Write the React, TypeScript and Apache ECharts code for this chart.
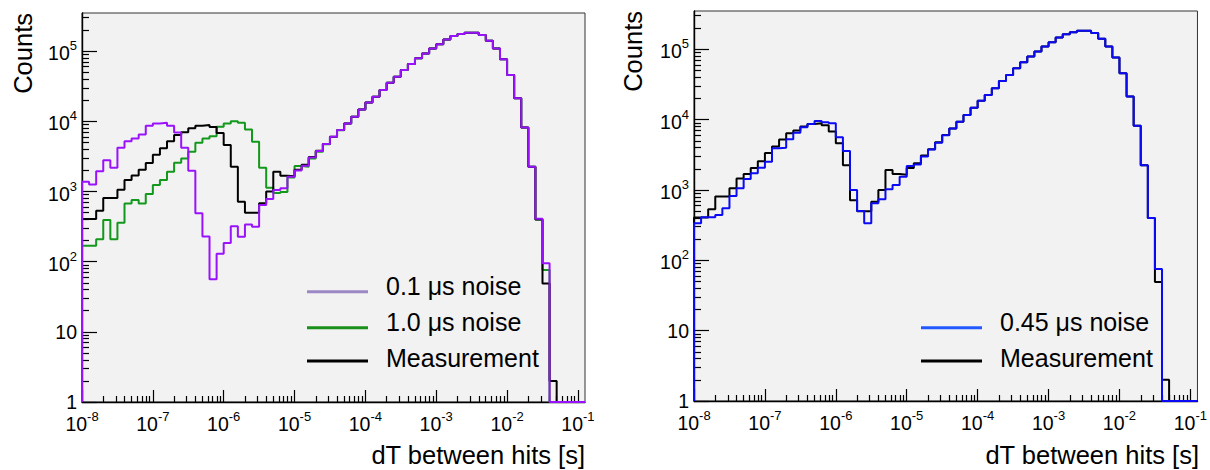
import React, { useEffect, useRef } from "react";
import * as echarts from "echarts";

// ---------- binning (log10 of dT, 10 bins per decade, starting at 1e-8 s) ----------
const FIRST_EDGE_EXP = -8;
const BIN_WIDTH_DEC = 0.1;
const X_MIN = 1e-8;
const X_MAX = Math.pow(10, -0.9);
const Y_MIN = 1;
const Y_MAX = 3.5e5;

// ---------- series values (counts per bin, 71 bins) ----------
const noise01us = [
  1375, 1260, 1950, 2800, 2180, 4200, 5220, 5700, 6500, 8630,
  9330, 9520, 8630, 6950, 4200, 1970, 488, 228, 56, 130,
  185, 321, 227, 340, 314, 640, 779, 1047, 1110, 1625,
  2000, 2330, 3060, 3770, 4740, 6030, 7510, 9350, 11600, 14800,
  18600, 22400, 27900, 35500, 43200, 53800, 65500, 79000, 93000, 109500,
  126000, 147000, 164000, 175000, 183000, 183000, 170000, 141000, 109500, 76500,
  45700, 21300, 8200, 2250, 410, 95, 0, 0, 0, 0,
  0,
];

const noise10us = [
  169, 169, 208, 391, 208, 358, 677, 754, 677, 918,
  1233, 1453, 1909, 2565, 2960, 3680, 4943, 5705, 6155, 8350,
  9330, 10070, 9520, 7660, 5106, 2177, 1130, 950, 980, 1580,
  2300, 2250, 2950, 3700, 4700, 6000, 7450, 9300, 11600, 14800,
  18600, 22400, 27900, 35500, 43200, 53800, 65500, 79000, 93000, 109500,
  126000, 147000, 164000, 175000, 183000, 183000, 170000, 141000, 109500, 76500,
  45700, 21300, 8200, 2250, 400, 76, 0, 0, 0, 0,
  0,
];

const measurement = [
  405, 405, 530, 810, 810, 1060, 1460, 1690, 2050, 2550,
  3350, 4150, 5200, 6400, 7000, 8000, 8650, 8850, 8300, 6800,
  4600, 2250, 715, 500, 500, 680, 1000, 1920, 1680, 1650,
  2050, 2400, 3100, 3800, 4750, 6050, 7500, 9350, 11600, 14800,
  18600, 22400, 27900, 35500, 43200, 53800, 65500, 79000, 93000, 109500,
  126000, 147000, 164000, 175000, 183000, 183000, 170000, 141000, 109500, 76500,
  45700, 21300, 8200, 2250, 400, 49, 2, 0, 0, 0,
  0,
];

const noise045us = [
  336, 409, 409, 441, 549, 821, 1056, 1432, 1726, 2076,
  2525, 3910, 3994, 5250, 6530, 7780, 8670, 9570, 9160, 8870,
  5610, 3580, 1000, 502, 336, 646, 736, 1021, 1177, 1545,
  2193, 2300, 3000, 3750, 4700, 6000, 7500, 9350, 11600, 14800,
  18600, 22400, 27900, 35500, 43200, 53800, 65500, 79000, 93000, 109500,
  126000, 147000, 164000, 175000, 183000, 183000, 170000, 141000, 109500, 76500,
  45700, 21300, 8200, 2250, 400, 75, 0, 0, 0, 0,
  0,
];

// ---------- ticks ----------
const xMajorTicks = [1e-8, 1e-7, 1e-6, 1e-5, 1e-4, 1e-3, 1e-2, 1e-1];
const yMajorTicks = [1, 10, 100, 1e3, 1e4, 1e5];
const minorMultipliers = [2, 3, 4, 5, 6, 7, 8, 9];

const legendLeft = ["0.1 μs noise", "1.0 μs noise", "Measurement"];
const legendRight = ["0.45 μs noise", "Measurement"];
const xTitle = "dT between hits [s]";
const yTitle = "Counts";

const FONT = '"Liberation Sans", Arial, Helvetica, sans-serif';

const C_PURPLE = "#9a12fb";
const C_PURPLE_LEG = "#9d88c6";
const C_GREEN = "#12981a";
const C_GREEN_LEG = "#1a901a";
const C_BLUE = "#0a0af5";
const C_BLUE_LEG = "#2458ff";
const C_BLACK = "#000000";

function minorsOf(majors: number[], maxV: number) {
  const out: number[] = [];
  majors.forEach((m) => minorMultipliers.forEach((k) => {
    const v = m * k;
    if (v <= maxV) out.push(v);
  }));
  return out;
}

function edge(k: number) {
  return Math.pow(10, FIRST_EDGE_EXP + k * BIN_WIDTH_DEC);
}

function stepData(vals: number[]) {
  const pts: [number, number][] = [[edge(0), Y_MIN]];
  vals.forEach((v, k) => pts.push([edge(k), Math.max(v, Y_MIN)]));
  pts.push([edge(vals.length), Math.max(vals[vals.length - 1], Y_MIN)]);
  return pts;
}

function supLabel(v: number) {
  const e = Math.round(Math.log10(v));
  if (e === 0) return "1";
  if (e === 1) return "10";
  return `{b|10}{s|${e}}`;
}

const rich = {
  b: { fontSize: 19.5, lineHeight: 24, fontFamily: FONT, color: "#000", verticalAlign: "bottom" },
  s: { fontSize: 13, lineHeight: 9, fontFamily: FONT, color: "#000", verticalAlign: "top" },
};

function axesFor(gridIndex: number) {
  const xMain = {
    type: "log", logBase: 10, gridIndex, min: X_MIN, max: X_MAX, position: "bottom",
    axisLine: { show: true, onZero: false, lineStyle: { color: "#000", width: 1.4 } },
    axisTick: { show: true, inside: true, length: 12, customValues: xMajorTicks, lineStyle: { color: "#000", width: 1.2 } },
    axisLabel: { show: true, customValues: xMajorTicks, formatter: supLabel, rich, margin: 8, fontSize: 19.5, lineHeight: 24, fontFamily: FONT, color: "#000" },
    splitLine: { show: false },
  };
  const xMinor = {
    type: "log", logBase: 10, gridIndex, min: X_MIN, max: X_MAX, position: "bottom",
    axisLine: { show: false, onZero: false },
    axisTick: { show: true, inside: true, length: 6, customValues: minorsOf(xMajorTicks, X_MAX), lineStyle: { color: "#000", width: 1.2 } },
    axisLabel: { show: false },
    splitLine: { show: false },
  };
  const yMain = {
    type: "log", logBase: 10, gridIndex, min: Y_MIN, max: Y_MAX, position: "left",
    axisLine: { show: true, onZero: false, lineStyle: { color: "#000", width: 1.4 } },
    axisTick: { show: true, inside: true, length: 15, customValues: yMajorTicks, lineStyle: { color: "#000", width: 1.2 } },
    axisLabel: { show: true, customValues: yMajorTicks, formatter: supLabel, rich, margin: 5, fontSize: 19.5, lineHeight: 24, fontFamily: FONT, color: "#000" },
    splitLine: { show: false },
  };
  const yMinor = {
    type: "log", logBase: 10, gridIndex, min: Y_MIN, max: Y_MAX, position: "left",
    axisLine: { show: false, onZero: false },
    axisTick: { show: true, inside: true, length: 7, customValues: minorsOf(yMajorTicks, Y_MAX), lineStyle: { color: "#000", width: 1.2 } },
    axisLabel: { show: false },
    splitLine: { show: false },
  };
  return { xMain, xMinor, yMain, yMinor };
}

function histSeries(name: string, vals: number[], color: string, axisIndex: number, z: number) {
  return {
    name, type: "line", step: "end", data: stepData(vals),
    xAxisIndex: axisIndex, yAxisIndex: axisIndex,
    showSymbol: false, symbol: "none", silent: true, z,
    lineStyle: { color, width: 2 },
  };
}

function legendItems(labels: string[], colors: string[], lineX1: number, lineX2: number, textX: number, lineYs: number[], textYs: number[]) {
  const els: any[] = [];
  labels.forEach((t, i) => {
    els.push({ type: "line", shape: { x1: lineX1, y1: lineYs[i], x2: lineX2, y2: lineYs[i] }, style: { stroke: colors[i], lineWidth: 3 }, z: 100 });
    els.push({ type: "text", x: textX, y: textYs[i], style: { text: t, fill: "#000", fontSize: 25, fontFamily: FONT, align: "left", verticalAlign: "middle" }, z: 100 });
  });
  return els;
}

export default function App() {
  const ref = useRef<HTMLDivElement>(null);
  useEffect(() => {
    if (!ref.current) return;
    const chart = echarts.init(ref.current, null, { renderer: "svg" });
    const L = axesFor(0);
    const R = axesFor(1);
    const option: any = {
      animation: false,
      backgroundColor: "#ffffff",
      grid: [
        { left: 82, top: 13, width: 503, height: 389, show: true, backgroundColor: "#f2f2f2", borderColor: "#333", borderWidth: 1, containLabel: false },
        { left: 694, top: 11, width: 505, height: 390, show: true, backgroundColor: "#f2f2f2", borderColor: "#333", borderWidth: 1, containLabel: false },
      ],
      xAxis: [L.xMain, L.xMinor, R.xMain, R.xMinor],
      yAxis: [L.yMain, L.yMinor, R.yMain, R.yMinor],
      series: [
        histSeries("1.0 μs noise", noise10us, C_GREEN, 0, 2),
        histSeries("Measurement", measurement, C_BLACK, 0, 3),
        histSeries("0.1 μs noise", noise01us, C_PURPLE, 0, 4),
        histSeries("Measurement ", measurement, C_BLACK, 2, 3),
        histSeries("0.45 μs noise", noise045us, C_BLUE, 2, 4),
      ],
      graphic: [
        ...legendItems(legendLeft, [C_PURPLE_LEG, C_GREEN_LEG, C_BLACK], 307, 368, 386, [291.7, 327.7, 361], [286, 321.7, 358.3]),
        ...legendItems(legendRight, [C_BLUE_LEG, C_BLACK], 921, 982, 1000, [327.7, 361], [321.7, 358.3]),
        { type: "text", x: 585, y: 455, style: { text: xTitle, fill: "#000", fontSize: 25.5, fontFamily: FONT, align: "right", verticalAlign: "middle" } },
        { type: "text", x: 1199, y: 455, style: { text: xTitle, fill: "#000", fontSize: 25.5, fontFamily: FONT, align: "right", verticalAlign: "middle" } },
        { type: "text", x: 23, y: 13, rotation: Math.PI / 2, style: { text: yTitle, fill: "#000", fontSize: 25.5, fontFamily: FONT, align: "right", verticalAlign: "middle" } },
        { type: "text", x: 633, y: 11, rotation: Math.PI / 2, style: { text: yTitle, fill: "#000", fontSize: 25.5, fontFamily: FONT, align: "right", verticalAlign: "middle" } },
      ],
    };
    chart.setOption(option);
    return () => chart.dispose();
  }, []);
  return <div ref={ref} style={{ position: "fixed", left: 0, top: 0, width: 1210, height: 470 }} />;
}
